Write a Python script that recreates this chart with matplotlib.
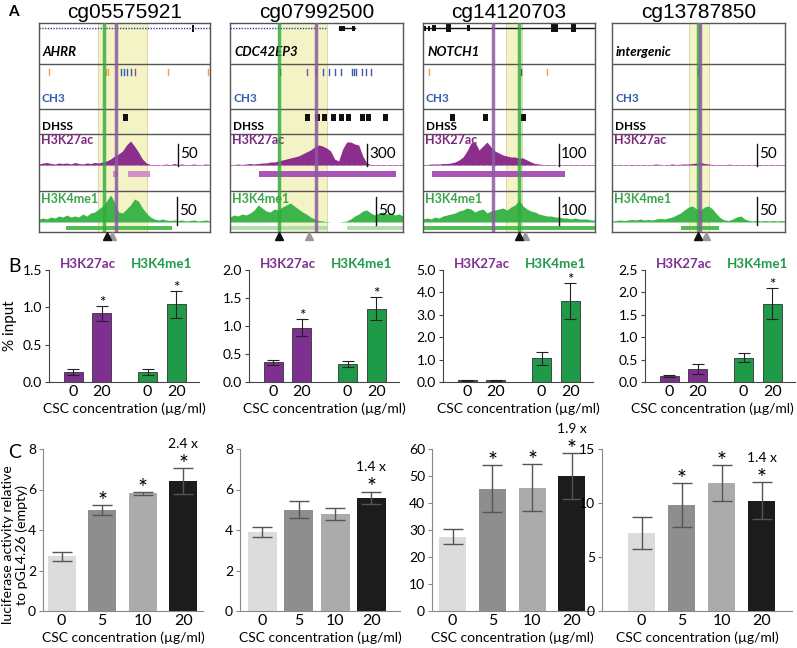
import numpy as np
import matplotlib.pyplot as plt
from matplotlib.patches import Rectangle
from matplotlib.transforms import blended_transform_factory

plt.rcParams['font.family'] = ['Lato', 'DejaVu Sans']

W, H = 797, 648

# ---------------- data: panel A (genome browser tracks) ----------------
a_titles = ['cg05575921', 'cg07992500', 'cg14120703', 'cg13787850']
a_genes = ['AHRR', 'CDC42EP3', 'NOTCH1', 'intergenic']
a_highlight = [(59, 108), (48, 97), (83, 99), (77, 97)]
a_green_line = [65, 49, 96, 86]
a_purple_line = [77, 86, 70, 88]
a_arrow_black = [68, 49, 96, 86]
a_arrow_gray = [73, 79, 102, 94]
a_gene_dotted = [(0, 171), (0, 97), None, None]
a_gene_solid = [None, (109, 125), (0, 172), None]
a_exons = [[(154, 2, 7)],
           [(112, 6, 5), (123, 3, 5)],
           [(2, 2, 5), (6, 2, 5), (11, 4, 6), (25, 5, 8), (45, 3, 6), (131, 7, 8), (150, 5, 8)],
           []]
a_ch3_pos = [[10, 67, 69, 82, 85, 88, 92, 96, 129, 169],
             [50, 77, 86, 93, 99, 105, 111, 122, 124, 126, 132, 136, 141],
             [6, 98, 124],
             [86]]
a_ch3_col = [['o', 'o', 'o', 'b', 'b', 'b', 'b', 'p', 'o', 'o'],
             ['k', 'p', 'b', 'b', 'b', 'b', 'b', 'b', 'b', 'b', 'b', 'b', 'b'],
             ['o', 'k', 'o'],
             ['k']]
a_dhs = [[86], [77, 87, 94, 103, 111, 118, 132, 138, 155], [29, 62, 100], []]
a_k27_scale = ['50', '300', '100', '50']
a_k4_scale = ['50', '50', '100', '50']
a_k27_scale_x = [139, 137, 136, 145]
a_k4_scale_x = [138, 146, 136, 145]
a_k27_peaks = [[(74, 79), (89, 111)], [(29, 166)], [(9, 142)], []]
a_k4_peaks = [[(27, 133)], [(0, 98), (117, 173)], [(0, 172)], [(69, 107)]]

k27ac_1 = [1, 2, 2.5, 1.5, 1, 2, 1.5, 2, 1, 2.5, 1.5, 1, 2, 1.5, 2.5, 2, 3, 4, 6, 9, 11, 14,
           20, 24, 19, 13, 6, 2, 0.5, 0.5, 0.5, 0.3, 1, 0.3, 1.5, 0.5, 1, 0.3, 0.5, 1, 0.3, 0.5, 1, 0.5]
k4me1_1 = [3, 4, 3, 5, 4, 6, 5, 7, 5, 6, 5, 8, 6, 9, 10, 13, 16, 21, 27, 20, 10, 9,
           13, 17, 23, 21, 14, 9, 5, 3, 2, 3, 2, 1.5, 2, 1.5, 2, 1, 1.5, 2, 1, 1.5, 2, 1]
k27ac_2 = [0.5, 0.5, 1, 0.5, 1, 1.5, 1, 1.5, 2, 2, 3, 3, 4, 5, 6, 7, 8, 9, 11, 13, 15, 18,
           20, 19, 17, 14, 6, 4, 16, 23, 23, 21, 20, 9, 2, 0.5, 0.5, 0.3, 0.5, 0.3, 0.5, 0.3, 0.5, 0.3]
k4me1_2 = [5, 7, 6, 8, 7, 9, 12, 17, 14, 11, 10, 13, 12, 15, 17, 19, 16, 13, 10, 8, 5, 3,
           1.5, 1, 0.5, 0, 0, 0, 0.5, 1, 3, 6, 8, 11, 12, 9, 7, 9, 10, 8, 9, 7, 8, 6]
k27ac_3 = [0.5, 0.5, 1, 1, 1, 1.5, 1.5, 2, 3, 5, 8, 14, 22, 23, 15, 19, 23, 18, 14, 12, 10, 9,
           8, 8, 7, 7, 5, 3, 1.5, 1, 0.5, 0.5, 0.5, 0.3, 0.5, 0.3, 0.5, 0.3, 0.5, 0.3, 0.5, 0.3, 0.5, 0.3]
k4me1_3 = [3, 4, 3, 5, 4, 6, 7, 8, 9, 11, 12, 14, 13, 10, 12, 13, 9, 11, 12, 13, 14, 12,
           15, 17, 22, 16, 13, 11, 10, 8, 7, 6, 6, 5, 5, 4, 4, 3, 4, 3, 3, 3, 2, 2]
k27ac_4 = [0.3, 0.3, 0.5, 0.3, 0.3, 0.5, 0.3, 0.3, 0.5, 0.3, 0.5, 1, 0.5, 0.3, 0.5, 1, 0.5, 0.8, 1, 1, 1.5, 2,
           2.5, 1.5, 1, 0.5, 0.3, 0.5, 0.3, 0.8, 0.5, 0.3, 0.5, 0.3, 0.5, 0.3, 0.5, 0.3, 0.5, 0.3, 0.5, 0.3, 0.5, 0.3]
k4me1_4 = [1, 1.5, 2, 1.5, 2, 2.5, 2, 3, 2, 2.5, 2, 3, 3.5, 3, 4, 5, 7, 9, 12, 15, 16, 13,
           12, 15, 16, 13, 8, 4, 2, 1.5, 3, 5, 6, 3, 1.5, 1, 1.5, 1, 1.5, 1, 1.5, 1, 1.5, 1]
a_k27ac = [k27ac_1, k27ac_2, k27ac_3, k27ac_4]
a_k4me1 = [k4me1_1, k4me1_2, k4me1_3, k4me1_4]

# ---------------- data: panel B (ChIP % input) ----------------
b_doses = ['0', '20']
b_k27 = [[0.13, 0.92], [0.35, 0.97], [0.08, 0.08], [0.13, 0.29]]
b_k27_err = [[0.04, 0.10], [0.05, 0.15], [0.02, 0.02], [0.02, 0.11]]
b_k4 = [[0.14, 1.04], [0.32, 1.31], [1.05, 3.62], [0.54, 1.75]]
b_k4_err = [[0.04, 0.18], [0.06, 0.21], [0.28, 0.82], [0.10, 0.35]]
b_k27_star = [[False, True], [False, True], [False, False], [False, False]]
b_k4_star = [[False, True], [False, True], [False, True], [False, True]]
b_ymax = [1.5, 2.0, 5.0, 2.5]
b_ystep = [0.5, 0.5, 1.0, 0.5]

# ---------------- data: panel C (luciferase) ----------------
c_doses = ['0', '5', '10', '20']
c_vals = [[2.7, 5.0, 5.82, 6.42], [3.92, 5.0, 4.8, 5.6],
          [27.5, 45.3, 45.7, 50.0], [7.25, 9.8, 11.85, 10.2]]
c_err = [[0.23, 0.25, 0.07, 0.64], [0.25, 0.43, 0.3, 0.3],
         [2.8, 8.8, 8.7, 8.5], [1.5, 2.05, 1.7, 1.7]]
c_star = [[False, True, True, True], [False, False, False, True],
          [False, True, True, True], [False, True, True, True]]
c_fold = ['2.4 x', '1.4 x', '1.9 x', '1.4 x']
c_ymax = [8, 8, 60, 15]
c_ystep = [2, 2, 10, 5]

PURPLE = '#7e3090'
GREEN = '#1e9a48'
TRK_PURPLE = '#8c2f8c'
TRK_GREEN = '#3db54a'
ch3_colors = {'o': '#f0a04b', 'b': '#3a5ba9', 'p': '#8b4a9c', 'k': '#555555'}
XLAB = 'CSC concentration (\u00b5g/ml)'

fig = plt.figure(figsize=(W / 100, H / 100), dpi=100)


def px_axes(x0, y0, x1, y1):
    return fig.add_axes([x0 / W, 1 - y1 / H, (x1 - x0) / W, (y1 - y0) / H])


def px_text(x, y, s, **kw):
    fig.text(x / W, 1 - y / H, s, **kw)


# ---------------- panel A ----------------
a_box = [(39, 210), (230, 403), (423, 595), (612, 785)]
px_text(8, 12, 'A', fontsize=11, fontweight='bold', va='center')
for i in range(4):
    x0, x1 = a_box[i]
    bw = x1 - x0
    ax = px_axes(x0, 23, x1, 232)
    ax.set_xlim(0, bw)
    ax.set_ylim(209, 0)
    ax.set_xticks([])
    ax.set_yticks([])
    for s in ax.spines.values():
        s.set_color('#555555')
        s.set_linewidth(1)
    px_text((x0 + x1) / 2, 12, a_titles[i], fontsize=15, ha='center', va='center',
            family='Liberation Sans')

    h0, h1 = a_highlight[i]
    ax.axvspan(h0, h1, color='#f3f3c6', zorder=0, lw=0)
    ax.axvline(h0, color='#d9d9a6', lw=0.7, zorder=0.5)
    ax.axvline(h1, color='#d9d9a6', lw=0.7, zorder=0.5)
    for y in [41, 86, 111, 168]:
        ax.axhline(y, color='#555555', lw=1, zorder=3)

    # gene track
    if a_gene_dotted[i]:
        ax.plot(a_gene_dotted[i], [5, 5], color='#2a3f8f', lw=1, ls=(0, (1, 1)))
    if a_gene_solid[i]:
        ax.plot(a_gene_solid[i], [5, 5], color='#111111', lw=1)
    for ex, ew, eh in a_exons[i]:
        ax.add_patch(Rectangle((ex - ew / 2, 5 - eh / 2), ew, eh, color='#111111', lw=0))
    ax.text(4, 29, a_genes[i], fontsize=9.5, fontweight='bold', style='italic', va='center')

    # CH3 track
    for p, c in zip(a_ch3_pos[i], a_ch3_col[i]):
        ax.plot([p, p], [46, 52], color=ch3_colors[c], lw=1)
    ax.text(3, 75, 'CH3', fontsize=8.5, fontweight='bold', color='#3a5ba9', va='center')

    # DHSS track
    for p in a_dhs[i]:
        ax.add_patch(Rectangle((p - 2.5, 91), 5, 7, color='#111111', lw=0))
    ax.text(3, 103, 'DHSS', fontsize=8.5, fontweight='bold', va='center')

    # H3K27ac
    xs = np.linspace(0, bw, len(a_k27ac[i]))
    ax.plot([0, bw], [142, 142], color='#b070b0', lw=0.6, ls=(0, (5, 2)))
    ax.fill_between(xs, 142, 142 - np.array(a_k27ac[i]), color=TRK_PURPLE, lw=0)
    for p0, p1 in a_k27_peaks[i]:
        ax.add_patch(Rectangle((p0, 148), p1 - p0, 6, color='#a955b5' if i else '#d690c8', lw=0))
    ax.text(2, 117, 'H3K27ac', fontsize=9, fontweight='bold', color='#7b2a7e', va='center')
    sx = a_k27_scale_x[i]
    ax.plot([sx, sx], [121, 143], color='#111111', lw=1)
    ax.text(sx + 2, 131, a_k27_scale[i], fontsize=11, va='center')

    # H3K4me1
    xs = np.linspace(0, bw, len(a_k4me1[i]))
    ax.fill_between(xs, 199, 199 - np.array(a_k4me1[i]), color=TRK_GREEN, lw=0)
    for p0, p1 in a_k4_peaks[i]:
        ax.add_patch(Rectangle((p0, 203), p1 - p0, 4, color='#b3ddb0' if i == 1 else '#55bb55', lw=0))
    ax.text(2, 176, 'H3K4me1', fontsize=9, fontweight='bold', color='#3aa547', va='center')
    sx = a_k4_scale_x[i]
    ax.plot([sx, sx], [174, 202], color='#111111', lw=1)
    ax.text(sx + 2, 188, a_k4_scale[i], fontsize=11, va='center')

    # CpG markers
    ax.axvline(a_green_line[i], color='#2eaa3c', lw=2.5, alpha=0.8, zorder=4)
    ax.axvline(a_purple_line[i], color='#8c5aa0', lw=2.5, alpha=0.85, zorder=4)
    ax.plot(a_arrow_black[i], 213, marker='^', color='#111111', ms=6, clip_on=False, zorder=6)
    ax.plot(a_arrow_gray[i], 213, marker='^', color='#999999', ms=6, clip_on=False, zorder=5)

# ---------------- panel B ----------------
px_text(8, 267, 'B', fontsize=14, va='center')
b_left = [49, 249, 443, 645]
bpos = [0, 1, 2.6, 3.6]
for i in range(4):
    ax = px_axes(b_left[i], 270, b_left[i] + 150, 382)
    vals = b_k27[i] + b_k4[i]
    errs = b_k27_err[i] + b_k4_err[i]
    stars = b_k27_star[i] + b_k4_star[i]
    cols = [PURPLE, PURPLE, GREEN, GREEN]
    ax.bar(bpos, vals, width=0.66, color=cols, edgecolor='#333333', lw=0.6)
    ax.errorbar(bpos, vals, yerr=errs, fmt='none', ecolor='#222222', elinewidth=0.8, capsize=4, capthick=0.8)
    for p, v, e, s in zip(bpos, vals, errs, stars):
        if s:
            ax.annotate('*', (p, v + e), xytext=(0, -3), textcoords='offset points',
                        ha='center', va='bottom', fontsize=11)
    ax.set_xlim(-0.85, 4.4)
    ax.set_ylim(0, b_ymax[i])
    ticks = np.arange(0, b_ymax[i] + 1e-9, b_ystep[i])
    ax.set_yticks(ticks)
    ax.set_yticklabels(['%.1f' % t for t in ticks])
    ax.set_xticks(bpos)
    ax.set_xticklabels(b_doses * 2)
    ax.tick_params(axis='x', length=0, labelsize=11.5, pad=2)
    ax.tick_params(axis='y', length=3, labelsize=10, pad=2, color='#444444')
    for s in ['top', 'right']:
        ax.spines[s].set_visible(False)
    for s in ['left', 'bottom']:
        ax.spines[s].set_color('#444444')
    ax.set_xlabel(XLAB, fontsize=10, labelpad=3)
    if i == 3:
        ax.xaxis.label.set_x(0.45)
    tr = blended_transform_factory(ax.transData, ax.transAxes)
    ax.text(0.5, 1.05, 'H3K27ac', transform=tr, ha='center', va='center',
            fontsize=9.6, fontweight='bold', color=PURPLE)
    ax.text(3.1, 1.05, 'H3K4me1', transform=tr, ha='center', va='center',
            fontsize=9.6, fontweight='bold', color=GREEN)
    if i == 0:
        ax.set_ylabel('% input', fontsize=11, labelpad=4)

# ---------------- panel C ----------------
px_text(8, 453, 'C', fontsize=14, va='center')
c_box = [(43, 203), (240, 400), (432, 592), (602, 792)]
c_xlim = [(-0.46, 3.49), (-0.62, 3.79), (-0.52, 3.51), (-0.99, 3.76)]
c_width = [0.69, 0.8, 0.68, 0.68]
c_colors = ['#dcdcdc', '#8e8e8e', '#ababab', '#1c1c1c']
for i in range(4):
    x0, x1 = c_box[i]
    ax = px_axes(x0, 449, x1, 611)
    xs = np.arange(len(c_doses))
    ax.bar(xs, c_vals[i], width=c_width[i], color=c_colors, lw=0)
    ax.errorbar(xs, c_vals[i], yerr=c_err[i], fmt='none', ecolor='#555555',
                elinewidth=1, capsize=7, capthick=1)
    for p, v, e, s in zip(xs, c_vals[i], c_err[i], c_star[i]):
        if s:
            ax.annotate('*', (p, v + e), xytext=(0, -5), textcoords='offset points',
                        ha='center', va='bottom', fontsize=17)
    top = c_vals[i][3] + c_err[i][3]
    ax.annotate(c_fold[i], (3, top), xytext=(0, 13), textcoords='offset points',
                ha='center', va='bottom', fontsize=10)
    ax.set_xlim(*c_xlim[i])
    ax.set_ylim(0, c_ymax[i])
    ax.set_yticks(np.arange(0, c_ymax[i] + 1e-9, c_ystep[i]))
    ax.set_xticks(xs)
    ax.set_xticklabels(c_doses)
    ax.tick_params(axis='x', length=0, labelsize=11.5, pad=2)
    ax.tick_params(axis='y', length=3, labelsize=10, pad=2, color='#888888')
    for s in ['top', 'right']:
        ax.spines[s].set_visible(False)
    for s in ['left', 'bottom']:
        ax.spines[s].set_color('#888888')
    ax.set_xlabel(XLAB, fontsize=10, labelpad=3)

px_text(15, 545, 'luciferase activity relative\nto pGL4.26 (empty)', fontsize=10.2,
        rotation=90, ha='center', va='center', linespacing=1.1)

fig.savefig('out.png', dpi=100)
